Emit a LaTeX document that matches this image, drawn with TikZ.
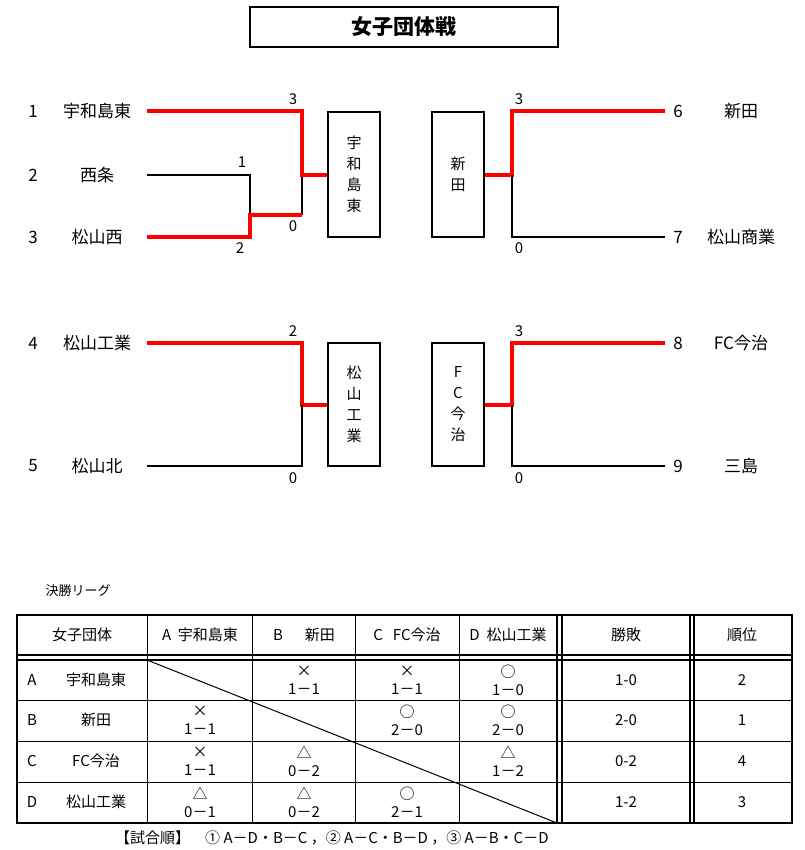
\documentclass[tikz,border=0pt]{standalone}
\usepackage{fontspec}
\setmainfont{Noto Sans CJK JP}
\begin{document}
\begin{tikzpicture}[x=1pt,y=-1pt,
  win/.style={red,line width=3.5pt},
  lose/.style={black,line width=1.3pt},
  bx/.style={draw,line width=1.3pt},
  lbl/.style={font=\fontsize{17}{17}\selectfont,inner sep=0pt},
  sc/.style={font=\fontsize{15}{15}\selectfont,inner sep=0pt},
  cell/.style={font=\fontsize{15}{18}\selectfont,align=center,inner sep=0pt},
  vt/.style={font=\fontsize{15}{21}\selectfont,align=center,inner sep=0pt}]
\useasboundingbox (0,0) rectangle (804,850);
\node[bx,minimum width=308pt,minimum height=40pt,font=\bfseries\fontsize{21}{21}\selectfont] (title) at (404,27) {女子団体戦};
% group 1 left
\node[lbl] (n1) at (33,111) {1}; \node[lbl] (t1) at (97,111) {宇和島東};
\node[lbl] (n2) at (33,175) {2}; \node[lbl] (t2) at (97,175) {西条};
\node[lbl] (n3) at (33,237) {3}; \node[lbl] (t3) at (97,237) {松山西};
\node[bx,minimum width=52pt,minimum height=125pt,vt] (b1) at (354,174.5) {宇\\和\\島\\東};
\draw[lose] (147,175) -- (250,175) -- (250,215);
\draw[lose] (302,175) -- (302,215);
\draw[win] (147,237) -- (250,237) -- (250,215) -- (302,215);
\draw[win] (147,111) -- (302,111) -- (302,175) -- (b1.west|-0,175);
\node[sc] at (293,99) {3}; \node[sc] at (242,162) {1};
\node[sc] at (293,226) {0}; \node[sc] at (240,248) {2};
% group 1 right
\node[bx,minimum width=52pt,minimum height=125pt,vt] (b2) at (458,174.5) {新\\田};
\draw[win] (b2.east|-0,175) -- (512,175) -- (512,111) -- (665,111);
\draw[lose] (512,175) -- (512,237) -- (665,237);
\node[sc] at (519,99) {3}; \node[sc] at (519,248) {0};
\node[lbl] (n6) at (678,111) {6}; \node[lbl] (t6) at (741,111) {新田};
\node[lbl] (n7) at (678,237) {7}; \node[lbl] (t7) at (741,237) {松山商業};
% group 2 left
\node[lbl] (n4) at (33,343) {4}; \node[lbl] (t4) at (97,343) {松山工業};
\node[lbl] (n5) at (33,466) {5}; \node[lbl] (t5) at (97,466) {松山北};
\node[bx,minimum width=52pt,minimum height=123pt,vt] (b3) at (354,404.5) {松\\山\\工\\業};
\draw[win] (147,343) -- (302,343) -- (302,405) -- (b3.west|-0,405);
\draw[lose] (302,405) -- (302,466) -- (147,466);
\node[sc] at (293,331) {2}; \node[sc] at (293,478) {0};
% group 2 right
\node[bx,minimum width=52pt,minimum height=123pt,vt] (b4) at (458,404.5) {F\\C\\今\\治};
\draw[win] (b4.east|-0,405) -- (512,405) -- (512,343) -- (665,343);
\draw[lose] (512,405) -- (512,466) -- (665,466);
\node[sc] at (519,331) {3}; \node[sc] at (519,478) {0};
\node[lbl] (n8) at (678,343) {8}; \node[lbl] (t8) at (741,343) {FC今治};
\node[lbl] (n9) at (678,466) {9}; \node[lbl] (t9) at (741,466) {三島};
% league
\node[font=\fontsize{13}{13}\selectfont,inner sep=0pt] (lg) at (78,591) {決勝リーグ};
\draw[line width=1.6pt] (17,615) rectangle (792,823);
\foreach \x in {147,252,355,459} \draw[line width=1pt] (\x,615) -- (\x,823);
\foreach \x in {557,562,690,694} \draw[line width=1.4pt] (\x,615) -- (\x,823);
\draw[line width=1.4pt] (17,655) -- (792,655) (17,660) -- (792,660);
\foreach \y in {700,741,782} \draw[line width=1pt] (17,\y) -- (792,\y);
\draw[line width=1pt] (147,660) -- (557,823);
\foreach \x/\t in {82/女子団体,200/A\ \ 宇和島東,304/B\quad\ \ 新田,407/C\ \ \ FC今治,508/D\ \ 松山工業,626/勝敗,742/順位}
  \node[cell] at (\x,635) {\t};
\foreach \y/\a/\b in {680/A/宇和島東,720/B/新田,761/C/FC今治,802/D/松山工業}{
  \node[cell] at (32,\y) {\a}; \node[cell] at (96,\y) {\b};}
\node[cell] at (304,680) {×\\1－1}; \node[cell] at (407,680) {×\\1－1}; \node[cell] at (508,680) {○\\1－0};
\node[cell] at (200,720) {×\\1－1}; \node[cell] at (407,720) {○\\2－0}; \node[cell] at (508,720) {○\\2－0};
\node[cell] at (200,761) {×\\1－1}; \node[cell] at (304,761) {△\\0－2}; \node[cell] at (508,761) {△\\1－2};
\node[cell] at (200,802) {△\\0－1}; \node[cell] at (304,802) {△\\0－2}; \node[cell] at (407,802) {○\\2－1};
\foreach \y/\a/\b in {680/1-0/2,720/2-0/1,761/0-2/4,802/1-2/3}{
  \node[cell] at (626,\y) {\a}; \node[cell] at (742,\y) {\b};}
\node[font=\fontsize{15}{15}\selectfont,inner sep=0pt,anchor=west] (order) at (115,838) {【試合順】\quad ① A－D・B－C ，② A－C・B－D ，③ A－B・C－D};
\end{tikzpicture}
\end{document}
